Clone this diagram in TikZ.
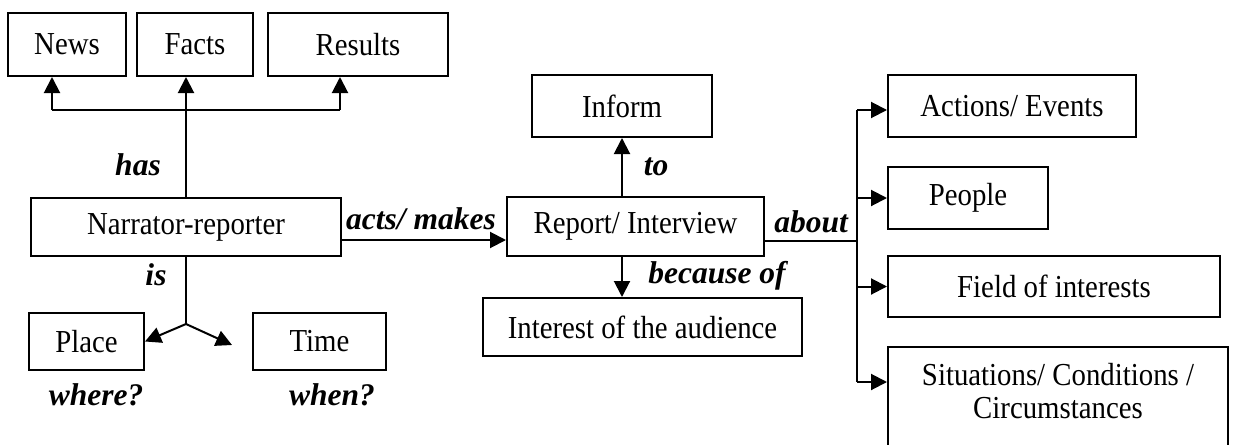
\documentclass[tikz,border=0pt]{standalone}
\usepackage{fontspec}
\setmainfont{Liberation Serif}[FakeStretch=0.9]
\newfontfamily\lblfont{Liberation Serif}
\usetikzlibrary{arrows.meta}
\tikzset{
  box/.style={draw, line width=2pt, inner sep=0pt, font=\fontsize{32}{34}\selectfont, align=center},
  lbl/.style={inner sep=0pt, anchor=base, font=\lblfont\bfseries\itshape\fontsize{31.5}{34}\selectfont},
  conn/.style={line width=2pt},
  arr/.style={line width=2pt, -{Triangle[length=16pt,width=16pt]}}
}
\begin{document}
\begin{tikzpicture}[x=1pt,y=-1pt]
\useasboundingbox (0,0) rectangle (1233,444);
\clip (0,0) rectangle (1233,444);
% boxes
\node[box, minimum width=118, minimum height=63] (news) at (67,44.5) {News};
\node[box, minimum width=116, minimum height=63] (facts) at (195,44.5) {Facts};
\node[box, minimum width=180, minimum height=63] (results) at (358,44.5) {Results};
\node[box, minimum width=310, minimum height=58] (narr) at (186,227) {Narrator-reporter};
\node[box, minimum width=115, minimum height=57] (place) at (86.5,341.5) {Place};
\node[box, minimum width=133, minimum height=57] (time) at (319.5,341.5) {Time};
\node[box, minimum width=257, minimum height=59] (report) at (635.5,226.5) {Report/ Interview};
\node[box, minimum width=180, minimum height=62] (inform) at (622,106) {Inform};
\node[box, minimum width=319, minimum height=58] (interest) at (642.5,327) {Interest of the audience};
\node[box, minimum width=248, minimum height=62] (actions) at (1012,106) {Actions/ Events};
\node[box, minimum width=160, minimum height=62] (people) at (968,198) {People};
\node[box, minimum width=332, minimum height=61] (field) at (1054,286.5) {Field of interests};
\node[box, minimum width=340, minimum height=130] (sit) at (1058,412) {};
\node[font=\fontsize{32}{33}\selectfont, align=center, inner sep=0pt] (sittext) at (1058,391) {Situations/ Conditions /\\Circumstances};
% has tree
\coordinate (hl) at (52,110);
\coordinate (hr) at (340,110);
\draw[conn] (hl) -- (hr);
\draw[arr] (hl) -- (hl |- news.south);
\draw[arr] (hr) -- (hr |- results.south);
\draw[arr] (narr.north) -- (narr.north |- facts.south);
% is tree
\coordinate (br) at (186,324);
\coordinate (tt) at (232,345);
\draw[conn] (narr.south) -- (br);
\draw[arr] (br) -- (place.east);
\draw[arr] (br) -- (tt);
% acts
\coordinate (ay) at (0,240);
\draw[arr] (narr.east |- ay) -- (report.west |- ay);
% to / because of
\draw[arr] (inform.south |- report.north) -- (inform.south);
\draw[arr] (inform.south |- report.south) -- (inform.south |- interest.north);
% about
\coordinate (vt) at (857,110);
\coordinate (vb) at (857,382);
\coordinate (vm) at (857,241);
\draw[conn] (report.east |- vm) -- (vm);
\draw[conn] (vt) -- (vb);
\draw[arr] (vt) -- (vt -| actions.west);
\draw[arr] (vt |- people.west) -- (people.west);
\draw[arr] (vt |- field.west) -- (field.west);
\draw[arr] (vb) -- (vb -| sit.west);
% labels
\node[lbl] (lhas) at (138,175) {has};
\node[lbl] (lacts) at (421,229) {acts/ makes};
\node[lbl] (lis) at (156,285) {is};
\node[lbl] (lwhere) at (96,405) {where?};
\node[lbl] (lwhen) at (332,405) {when?};
\node[lbl] (lto) at (656,175) {to};
\node[lbl] (lbec) at (717,283) {because of};
\node[lbl] (labout) at (811,232) {about};
\end{tikzpicture}
\end{document}
